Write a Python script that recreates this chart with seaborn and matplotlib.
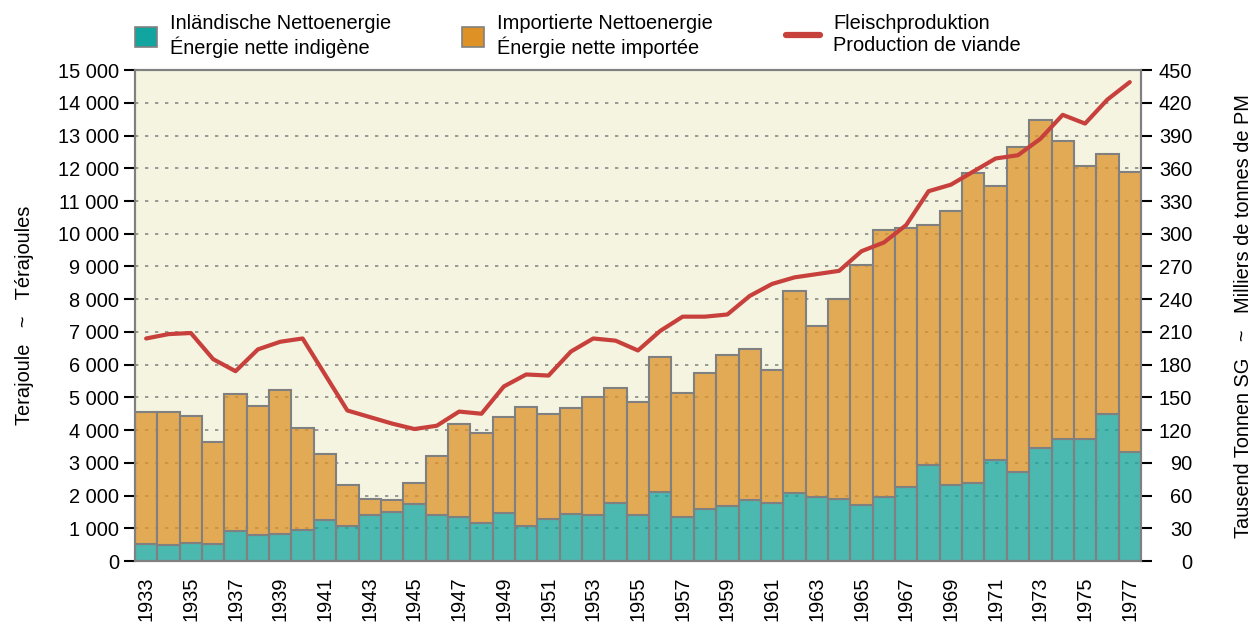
import numpy as np
import pandas as pd
import matplotlib
matplotlib.use("Agg")
import matplotlib.pyplot as plt
from matplotlib.colors import to_rgba
from matplotlib.patches import Patch
from matplotlib.lines import Line2D
from matplotlib.ticker import FuncFormatter, MultipleLocator
import seaborn as sns

# ------------------------------------------------------------
# data
# ------------------------------------------------------------
years = list(range(1933, 1978))

total_energy = [4560, 4560, 4420, 3640, 5090, 4750, 5240, 4050, 3270, 2330,
                1890, 1850, 2390, 3210, 4180, 3900, 4390, 4700, 4490, 4690,
                5000, 5290, 4860, 6240, 5140, 5750, 6310, 6470, 5850, 8260,
                7190, 8020, 9050, 10100, 10190, 10280, 10710, 11870, 11450, 12650,
                13470, 12840, 12070, 12450, 11890]

domestic_energy = [530, 500, 550, 510, 910, 790, 840, 940, 1250, 1060,
                   1400, 1500, 1750, 1400, 1350, 1170, 1480, 1060, 1270, 1450,
                   1420, 1770, 1420, 2110, 1350, 1600, 1680, 1860, 1770, 2080,
                   1950, 1900, 1700, 1960, 2260, 2930, 2310, 2370, 3100, 2720,
                   3440, 3740, 3740, 4490, 3330]

meat_production = [204, 208, 209, 185, 174, 194, 201, 204, 171, 138,
                   132, 126, 121, 124, 137, 135, 160, 171, 170, 192,
                   204, 202, 193, 211, 224, 224, 226, 243, 254, 260,
                   263, 266, 284, 292, 308, 339, 345, 357, 369, 372,
                   387, 409, 401, 423, 439]

label_domestic = "Inländische Nettoenergie\nÉnergie nette indigène"
label_imported = "Importierte Nettoenergie\nÉnergie nette importée"
label_meat = "Fleischproduktion\nProduction de viande"

# ------------------------------------------------------------
# styling
# ------------------------------------------------------------
sns.set_style("white")
plt.rcParams["font.family"] = ["Liberation Sans", "DejaVu Sans"]
FS = 14.4
plt.rcParams.update({"font.size": FS, "text.color": "black",
                     "axes.labelcolor": "black", "xtick.color": "black",
                     "ytick.color": "black"})

teal = "#12A5A0"
orange = "#DE9226"
red = "#C8403C"
edge = "#808080"
cream = "#F4F4E1"

df = pd.DataFrame({"year": [str(y) for y in years],
                   "total": total_energy,
                   "domestic": domestic_energy,
                   "meat": meat_production})

fig = plt.figure(figsize=(12.52, 6.26), dpi=100)
ax = fig.add_axes([0.1078, 0.1038, 0.8035, 0.7842])
ax.set_facecolor(cream)

# domestic bars from zero, imported part stacked on top (total - domestic)
sns.barplot(data=df, x="year", y="domestic", color=teal, width=1.0,
            edgecolor=edge, linewidth=1.5, saturation=1, ax=ax)
n_dom = len(ax.patches)
sns.barplot(data=df, x="year", y="total", color=orange, width=1.0,
            edgecolor=edge, linewidth=1.5, saturation=1, ax=ax)
for i, p in enumerate(ax.patches):
    if i < n_dom:
        p.set_facecolor(to_rgba(teal, 0.75))
    else:
        j = i - n_dom
        p.set_y(domestic_energy[j])
        p.set_height(total_energy[j] - domestic_energy[j])
        p.set_facecolor(to_rgba(orange, 0.75))
    p.set_edgecolor(edge)

ax.set_xlim(-0.5, len(years) - 0.5)
ax.set_ylim(0, 15000)
ax.yaxis.set_major_locator(MultipleLocator(1000))
ax.yaxis.set_major_formatter(FuncFormatter(lambda v, _: f"{int(v):,}".replace(",", " ")))
ax.set_axisbelow(True)
ax.grid(axis="y", linestyle=(0, (2, 4)), color="#888888", linewidth=1.2)

# year labels at odd years (bar centres), tick marks at bar edges
ax.set_xticks(range(0, len(years), 2))
ax.set_xticklabels([str(y) for y in years[::2]], rotation=90)
ax.set_xticks(np.arange(-0.5, len(years), 1.0), minor=True)
ax.tick_params(axis="x", which="major", length=0, pad=11, labelsize=FS)
ax.tick_params(axis="x", which="minor", length=8, width=1.5, color="black")
ax.tick_params(axis="y", length=8, width=1.5, color="black", labelsize=FS)
ax.set_xlabel("")
ax.set_ylabel("Terajoule   ~   Térajoules", fontsize=FS, labelpad=17)

for s in ax.spines.values():
    s.set_color(edge)
    s.set_linewidth(1.5)

# meat production on the right axis
ax2 = ax.twinx()
sns.lineplot(x=np.arange(len(years)), y=meat_production, color=red,
             linewidth=3, ax=ax2)
ax2.set_ylim(0, 450)
ax2.yaxis.set_major_locator(MultipleLocator(30))
ax2.tick_params(axis="y", length=8, width=1.5, color="black", labelsize=FS, pad=29)
for lab in ax2.get_yticklabels():
    lab.set_horizontalalignment("right")
ax2.set_ylabel("Tausend Tonnen SG   ~   Milliers de tonnes de PM",
               fontsize=FS, labelpad=30)
for s in ax2.spines.values():
    s.set_color(edge)
    s.set_linewidth(1.5)
ax2.set_xlim(-0.5, len(years) - 0.5)

# legend: three separate entries across the top
leg_kw = dict(frameon=False, loc="upper left", borderpad=0, fontsize=FS,
              handletextpad=0.65, labelspacing=0)
fig.legend(handles=[Patch(facecolor=teal, edgecolor=edge, linewidth=1.2, label=label_domestic)],
           bbox_to_anchor=(0.100, 0.993), handlelength=1.1, handleheight=1.1, **leg_kw)
fig.legend(handles=[Patch(facecolor=orange, edgecolor=edge, linewidth=1.2, label=label_imported)],
           bbox_to_anchor=(0.361, 0.993), handlelength=1.1, handleheight=1.1, **leg_kw)
fig.legend(handles=[Line2D([], [], color=red, linewidth=4.5, label=label_meat)],
           bbox_to_anchor=(0.620, 0.993), handlelength=1.7, **leg_kw)

fig.savefig("out.png", dpi=100)
